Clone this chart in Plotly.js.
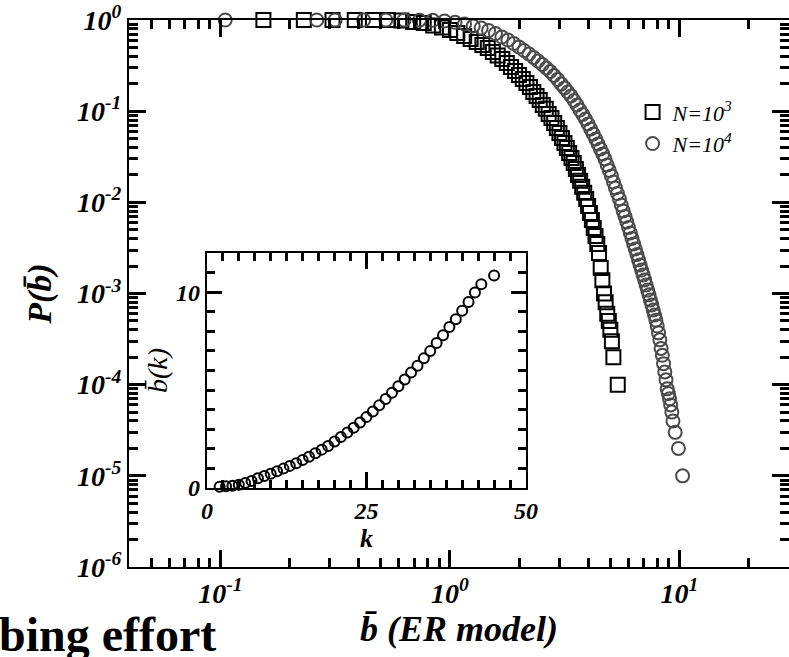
<!DOCTYPE html>
<html><head><meta charset="utf-8">
<script src="https://cdn.plot.ly/plotly-3.0.1.min.js"></script>
<style>html,body{margin:0;padding:0;background:#fff}#chart{width:789px;height:657px}</style>
</head><body><div id="chart"></div>
<script>
// ---- main plot: N = 10^3 (squares)
const bN3 = [0.154,0.231,0.308,0.385,0.462,0.538,0.615,0.692,0.769,0.846,0.923,1.0,1.077,1.154,1.231,1.308,1.385,1.462,1.538,1.615,1.692,1.769,1.846,1.923,2.0,2.077,2.154,2.231,2.308,2.385,2.462,2.538,2.615,2.692,2.769,2.846,2.923,3.0,3.077,3.154,3.231,3.308,3.385,3.462,3.538,3.615,3.692,3.769,3.846,3.923,4.0,4.077,4.154,4.231,4.308,4.385,4.462,4.538,4.615,4.692,4.769,4.846,4.923,5.0,5.077,5.154,5.385];
const pN3 = [1,1,1,1,1,1,0.987,0.95,0.927,0.87,0.828,0.777,0.72,0.668,0.619,0.574,0.532,0.493,0.446,0.408,0.373,0.338,0.305,0.276,0.249,0.225,0.204,0.184,0.1625,0.147,0.133,0.117,0.106,0.0932,0.0842,0.0743,0.0655,0.0577,0.0508,0.0448,0.0395,0.0348,0.0307,0.027,0.0232,0.02,0.0172,0.0148,0.0127,0.0109,0.00914,0.00766,0.00641,0.00524,0.00428,0.0035,0.00279,0.0019,0.0014,0.001,0.0008,0.0006,0.0005,0.0004,0.0003,0.0002,0.0001];
// ---- main plot: N = 10^4 (circles)
const bN4 = [0.105,0.263,0.316,0.421,0.526,0.632,0.737,0.842,0.947,1.053,1.158,1.263,1.368,1.474,1.579,1.684,1.789,1.895,2.0,2.105,2.211,2.316,2.421,2.526,2.632,2.737,2.842,2.947,3.053,3.158,3.263,3.368,3.474,3.579,3.684,3.789,3.895,4.0,4.105,4.211,4.316,4.421,4.526,4.632,4.737,4.842,4.947,5.053,5.158,5.263,5.368,5.474,5.579,5.684,5.789,5.895,6.0,6.105,6.211,6.316,6.421,6.526,6.632,6.737,6.842,6.947,7.053,7.158,7.263,7.368,7.474,7.579,7.684,7.789,7.895,8.0,8.105,8.211,8.316,8.421,8.526,8.632,8.737,8.842,8.947,9.053,9.158,9.263,9.368,9.579,9.895,10.316];
const pN4 = [1,1,1,1,1,1,0.995,0.992,0.975,0.944,0.904,0.859,0.817,0.767,0.711,0.651,0.603,0.552,0.506,0.463,0.424,0.388,0.355,0.325,0.298,0.272,0.246,0.223,0.199,0.18,0.1625,0.147,0.131,0.117,0.103,0.092,0.0821,0.0724,0.0638,0.0562,0.0496,0.0437,0.0385,0.034,0.0299,0.0257,0.0224,0.0195,0.0167,0.0144,0.0125,0.0109,0.00936,0.00805,0.007,0.0061,0.00531,0.00462,0.00402,0.0035,0.00308,0.00268,0.00234,0.00206,0.00181,0.0016,0.00141,0.00124,0.00109,0.000966,0.00085,0.00075,0.00066,0.00058,0.00051,0.00044,0.00037,0.00031,0.00025,0.00021,0.00017,0.000138,0.000113,0.00009,0.00008,0.00007,0.00006,0.00005,0.00004,0.00003,0.00002,0.00001];
// ---- inset: b(k) vs k
const kInset = [2,3,4,5,6,7,8,9,10,11,12,13,14,15,16,17,18,19,20,21,22,23,24,25,26,27,28,29,30,31,32,33,34,35,36,37,38,39,40,41,42,43,45];
const bkInset = [0.07,0.09,0.12,0.17,0.25,0.36,0.5,0.61,0.73,0.86,0.99,1.13,1.27,1.43,1.6,1.78,1.96,2.15,2.37,2.6,2.83,3.08,3.35,3.62,3.91,4.22,4.55,4.87,5.2,5.54,5.9,6.24,6.62,7.0,7.4,7.8,8.22,8.62,9.05,9.5,9.98,10.4,10.85];
// ---- tick labels
const xTickVals = [0.1, 1, 10];
const xTickText = ['10<sup>-1</sup>','10<sup>0</sup>','10<sup>1</sup>'];
const yTickVals = [1, 0.1, 0.01, 0.001, 0.0001, 0.00001, 0.000001];
const yTickText = ['10<sup>0</sup>','10<sup>-1</sup>','10<sup>-2</sup>','10<sup>-3</sup>','10<sup>-4</sup>','10<sup>-5</sup>','10<sup>-6</sup>'];
const seriesNames = ['<i>N=10<sup>3</sup></i>','<i>N=10<sup>4</sup></i>'];

const FAM = 'Liberation Serif, Times New Roman, serif';
const F = (size, weight, style) => ({family: FAM, size: size, color: '#000', weight: weight, style: style});
const TW = 3;

const traces = [
  {x: bN3, y: pN3, type: 'scatter', mode: 'markers', name: seriesNames[0], cliponaxis: false,
   marker: {symbol: 'square-open', size: 14, color: '#000', line: {width: 2, color: '#000'}}, xaxis: 'x', yaxis: 'y'},
  {x: bN4, y: pN4, type: 'scatter', mode: 'markers', name: seriesNames[1], cliponaxis: false,
   marker: {symbol: 'circle-open', size: 13, color: '#4a4a4a', line: {width: 2, color: '#4a4a4a'}}, xaxis: 'x', yaxis: 'y'},
  {x: kInset, y: bkInset, type: 'scatter', mode: 'markers', showlegend: false, cliponaxis: false,
   marker: {symbol: 'circle-open', size: 10, color: '#000', line: {width: 2, color: '#000'}}, xaxis: 'x2', yaxis: 'y2'}
];

const axCommon = {showline: true, linewidth: 2, linecolor: '#000', mirror: 'ticks', ticks: 'inside', tickwidth: TW, tickcolor: '#000', showgrid: false, zeroline: false};

const layout = {
  width: 789, height: 657,
  margin: {l: 129, r: 0, t: 20, b: 90},
  showlegend: true,
  legend: {x: 0.763, y: 0.87, xanchor: 'left', yanchor: 'top', bgcolor: 'rgba(0,0,0,0)', font: F(22, 'normal', 'italic'), tracegroupgap: 0},
  xaxis: Object.assign({}, axCommon, {
    type: 'log', range: [Math.log10(0.04), Math.log10(30)], domain: [0, 1], anchor: 'y',
    ticklen: 17, tickmode: 'array', tickvals: xTickVals, ticktext: xTickText, tickfont: F(28, 'bold', 'italic'),
    minor: {ticks: 'inside', ticklen: 9, tickwidth: TW, tickcolor: '#000', dtick: 'D1'},
    title: {text: 'b\u0304 (ER model)', font: F(36, 'bold', 'italic'), standoff: 0}
  }),
  yaxis: Object.assign({}, axCommon, {
    type: 'log', range: [-6, 0], domain: [0, 1], anchor: 'x',
    ticklen: 17, tickmode: 'array', tickvals: yTickVals, ticktext: yTickText, tickfont: F(28, 'bold', 'italic'),
    minor: {ticks: 'inside', ticklen: 9, tickwidth: TW, tickcolor: '#000', dtick: 'D1'},
    title: {text: 'P(b\u0304)', font: F(34, 'bold', 'italic'), standoff: 15}
  }),
  xaxis2: Object.assign({}, axCommon, {
    range: [0, 50], domain: [0.118, 0.6015], anchor: 'y2',
    ticklen: 16, dtick: 25, tickfont: F(24, 'bold', 'italic'),
    minor: {ticks: 'inside', ticklen: 8, tickwidth: TW, tickcolor: '#000', dtick: 2.5},
    title: {text: 'k', font: F(26, 'bold', 'italic'), standoff: 6}
  }),
  yaxis2: Object.assign({}, axCommon, {
    range: [0, 12], domain: [0.1444, 0.574], anchor: 'x2',
    ticklen: 15, dtick: 10, tickfont: F(24, 'bold', 'italic'),
    minor: {ticks: 'inside', ticklen: 8, tickwidth: TW, tickcolor: '#000', dtick: 1},
    title: {text: 'b\u0304(k)', font: F(28, 'normal', 'italic'), standoff: 0}
  }),
  annotations: [
    {xref: 'paper', yref: 'paper', x: -0.2, y: -0.124, xanchor: 'left', yanchor: 'middle', showarrow: false,
     text: 'bing effort', font: F(48, 'bold', 'normal')}
  ]
};

Plotly.newPlot('chart', traces, layout, {displayModeBar: false, staticPlot: true});
</script>
</body></html>
